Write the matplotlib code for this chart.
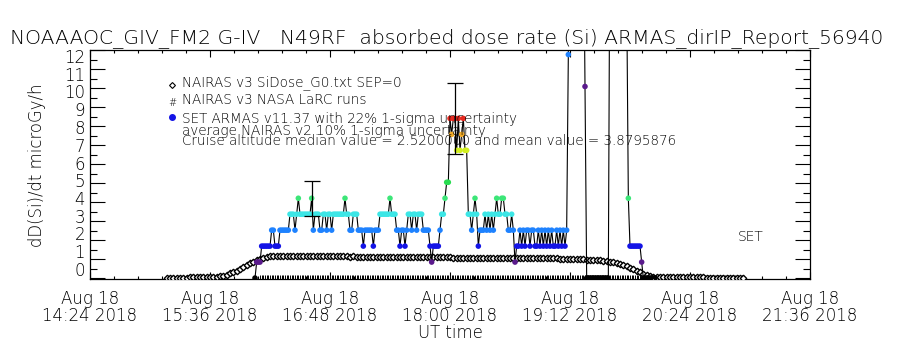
import matplotlib
matplotlib.use("Agg")
import matplotlib.pyplot as plt
import numpy as np

# ---------------- data ----------------
title_text = "NOAAAOC_GIV_FM2 G-IV   N49RF  absorbed dose rate (Si) ARMAS_dirIP_Report_56940"
x_tick_hours = [14.4, 15.6, 16.8, 18.0, 19.2, 20.4, 21.6]
x_tick_labels = ["Aug 18\n14:24 2018", "Aug 18\n15:36 2018", "Aug 18\n16:48 2018",
                 "Aug 18\n18:00 2018", "Aug 18\n19:12 2018", "Aug 18\n20:24 2018",
                 "Aug 18\n21:36 2018"]
y_tick_values = [0, 1, 2, 3, 4, 5, 6, 7, 8, 9, 10, 11, 12]
y_tick_labels = ["0", "1", "2", "3", "4", "5", "6", "7", "8", "9", "10", "11", "12"]

legend_lines = ["NAIRAS v3 SiDose_G0.txt SEP=0",
                "NAIRAS v3 NASA LaRC runs",
                "SET ARMAS v11.37 with 22% 1-sigma uncertainty",
                "average NAIRAS v2 10% 1-sigma uncertainty",
                "Cruise altitude median value = 2.5200000 and mean value = 3.8795876"]

# ARMAS: 1-minute readings (counts of 0.84 microGy/h quanta), starting 16:03 UT
armas_start_hour = 16.05
armas_quantum = 0.84
armas_levels = [0, 1, 1, 1, 2, 2, 2, 2,
                2, 2, 3, 3, 2, 2, 2, 3, 3, 3, 3, 3, 3, 4, 4,
                4, 3, 4, 5, 4, 4, 4, 4, 4, 4, 4,
                5,
                3, 4, 4, 4, 3, 3, 4, 4, 3, 4, 4, 3, 4, 4, 4, 4, 4, 4, 4,
                5,
                4, 4, 3, 3, 4, 4, 4, 3, 3, 3,
                2, 3, 3, 3, 3, 3, 2, 3, 3, 3,
                4, 4, 4, 4, 4, 4, 5, 4, 4, 4, 3, 3,
                2, 3, 3, 2, 3, 4, 4, 3, 4, 4, 3, 4, 4, 4, 3, 3, 3, 3,
                2, 1, 2, 2, 2, 2,
                3, 4, 4, 5, 6, 6,
                10, 9, 10, 10, 8, 10, 8, 9, 10, 8, 8,
                4, 4, 3, 4, 5, 4, 2, 3, 3, 3,
                4, 3, 4, 3, 4, 3, 4, 5, 4, 4, 5, 5, 4, 4, 3, 3, 4, 3,
                1,
                2, 2, 3, 2, 3, 2, 3, 3, 2, 3, 3, 2, 2, 3, 2, 3, 2, 3, 2, 3, 2, 3, 2, 2, 3, 2, 3, 2, 3, 2, 3,
                14,
                36, 48, 54, 48, 42, 36, 33, 30, 24,
                12,
                0, 0, 0, 0, 0, 0, 0, 0, 0, 0, 0, 0, 0, 0,
                24, 42, 54, 60, 54, 48, 42, 36, 30, 24, 18,
                5,
                2, 2, 2, 2, 2, 2, 2,
                1,
                0, 0, 0, 0, 0, 0, 0, 0]
armas_errbar_index = [34, 120]
armas_sigma = 0.22

# NAIRAS v3 SiDose: 2-minute values starting 15:10 UT
nairas_start_hour = 15.0 + 10 / 60
nairas_dose = [0.02, 0.02, 0.02, 0.02, 0.02, 0.02, 0.02, 0.03, 0.03, 0.03, 0.03, 0.04, 0.04, 0.05, 0.06, 0.08,
               0.10, 0.13, 0.18, 0.24, 0.31, 0.39, 0.48, 0.58, 0.68, 0.78, 0.87, 0.95, 1.02, 1.08, 1.12, 1.15, 1.16,
               1.16, 1.16, 1.16, 1.16, 1.15, 1.16, 1.16, 1.15, 1.15, 1.15,
               1.15, 1.15, 1.15, 1.14, 1.15, 1.15, 1.14, 1.14, 1.14, 1.14,
               1.14, 1.14, 1.13, 1.14, 1.13, 1.13, 1.13, 1.13, 1.13, 1.12,
               1.12, 1.12, 1.12, 1.12, 1.12, 1.11, 1.11, 1.11, 1.11, 1.11,
               1.11, 1.10, 1.10, 1.10, 1.10, 1.10, 1.10, 1.09, 1.09, 1.09,
               1.09, 1.09, 1.09, 1.08, 1.08, 1.08, 1.08, 1.08, 1.08, 1.07,
               1.07, 1.07, 1.07, 1.07, 1.07, 1.06, 1.06, 1.06, 1.06, 1.06,
               1.06, 1.06, 1.05, 1.05, 1.05, 1.05, 1.05, 1.05, 1.04, 1.04,
               1.04, 1.04, 1.03, 1.03, 1.03, 1.02, 1.02, 1.01,
               1.00, 0.99, 0.99, 0.98, 0.98, 0.97, 0.96, 0.95, 0.94, 0.93, 0.91, 0.89, 0.86,
               0.83, 0.79, 0.74, 0.68, 0.61, 0.54, 0.46, 0.38, 0.30, 0.22, 0.15, 0.10,
               0.07, 0.06, 0.05, 0.05, 0.04, 0.04, 0.04, 0.04, 0.03, 0.03, 0.03, 0.03, 0.03, 0.03,
               0.03, 0.03, 0.02, 0.02, 0.02, 0.02, 0.02, 0.02, 0.02, 0.02, 0.02, 0.02, 0.02, 0.02]

# NAIRAS v3 NASA LaRC runs (zero-valued, 1-minute)
larc_start_hour = 16.1
larc_end_hour = 20.95

# ---------------- styling ----------------
level_palette = ['#5a1a8c', '#1414e6', '#1e82ff', '#3ce6e6', '#3ce678', '#28dc50',
                 '#96e628', '#d2f01e', '#f0aa28', '#e6281e', '#c80000']


def level_color(k):
    if k <= 0:
        return 'black'
    return level_palette[(k - 1) % len(level_palette)]


plt.rcParams['font.family'] = ['DejaVu Sans']
plt.rcParams['font.weight'] = 'light'
plt.rcParams['axes.labelweight'] = 'light'

W, H = 900, 350
fig = plt.figure(figsize=(9, 3.5), dpi=100)
L, R, T, B = 90, 810, 50, 279
ax = fig.add_axes([L / W, 1 - B / H, (R - L) / W, (B - T) / H])

ax.set_xlim(14.4, 21.6)
ax.set_ylim(-0.05, 12)


def ax_xy(px, py):
    return (px - L) / (R - L), (B - py) / (B - T)


# LaRC zero-valued runs (clipped at the bottom axis)
larc_t = np.arange(larc_start_hour, larc_end_hour, 1 / 60)
larc_v = [0.0 for _ in larc_t]
ax.plot(larc_t, larc_v, ls='none', marker='|', ms=4, mew=0.7, color='black', zorder=2)

# NAIRAS diamonds
nairas_t = nairas_start_hour + np.arange(len(nairas_dose)) * 2 / 60
ax.plot(nairas_t, nairas_dose, ls='none', marker='D', ms=3.3, mfc='white', mec='black',
        mew=1.0, zorder=3)

# ARMAS
armas_t = armas_start_hour + np.arange(len(armas_levels)) / 60
armas_dose = [k * armas_quantum for k in armas_levels]
ax.plot(armas_t, armas_dose, color='black', lw=0.8, zorder=4)
ax.scatter(armas_t, armas_dose, s=16, c=[level_color(k) for k in armas_levels],
           linewidths=0, zorder=5)
for i in armas_errbar_index:
    ax.errorbar([armas_t[i]], [armas_dose[i]], yerr=[[armas_dose[i] * armas_sigma]],
                color='black', lw=0.9, capsize=5.5, capthick=0.9, zorder=6, fmt='none')

# axes styling
for s in ax.spines.values():
    s.set_linewidth(0.9)
ax.set_xticks(x_tick_hours)
ax.set_xticklabels(x_tick_labels, fontsize=12, linespacing=0.95)
ax.set_xticks(np.arange(14.4, 21.61, 0.24), minor=True)
ax.set_yticks(y_tick_values)
ax.set_yticks(np.arange(0, 12.01, 0.5), minor=True)
ax.tick_params(axis='x', which='major', direction='in', length=5, width=0.8, top=True, pad=8)
ax.tick_params(axis='x', which='minor', direction='in', length=2.5, width=0.8, top=True)
ax.tick_params(axis='y', which='major', direction='in', length=11, width=0.8, right=True,
               labelleft=False)
ax.tick_params(axis='y', which='minor', direction='in', length=5, width=0.8, right=True)

# y tick labels (placed as in the reference)
for i, lab in enumerate(y_tick_labels):
    py = 271 - 17.75 * i
    ax.text(-5 / (R - L), (B - py) / (B - T), lab, transform=ax.transAxes,
            ha='right', va='center', fontsize=12)

ax.set_xlabel("UT time", fontsize=12, fontweight='light')
ax.xaxis.set_label_coords(0.5, ax_xy(0, 324)[1])
ylab = ax.set_ylabel("dD(Si)/dt microGy/h", fontsize=12, fontweight='light')
ax.yaxis.set_label_coords(ax_xy(46, 0)[0], ax_xy(0, 165)[1])

ttl = fig.text(447 / W, 1 - 38 / H, title_text, ha='center', va='center', fontsize=14)

# legend block
lx, ly = ax_xy(172, 85)
ax.plot([lx], [ly], marker='D', ms=3, mfc='white', mec='black', mew=0.8,
        transform=ax.transAxes, clip_on=False)
lx, ly = ax_xy(172, 103)
ax.text(lx, ly, '#', transform=ax.transAxes, ha='center', va='center', fontsize=7)
lx, ly = ax_xy(172, 117)
ax.plot([lx], [ly], marker='o', ms=4, color='#1414e6', transform=ax.transAxes, clip_on=False)

leg_y = [83, 100, 119, 131, 141]
leg_texts = []
for txt, py in zip(legend_lines, leg_y):
    x0, y0 = ax_xy(182, py)
    leg_texts.append(ax.text(x0, y0, txt, transform=ax.transAxes, ha='left', va='center',
                             fontsize=9, zorder=7))

sx, sy = ax_xy(751, 237)
ax.text(sx, sy, "SET", transform=ax.transAxes, ha='center', va='center', fontsize=10)

# fit sizes of key texts to the reference
renderer = fig.canvas.get_renderer()


def fit_w(t, target):
    w = t.get_window_extent(renderer).width
    t.set_fontsize(t.get_fontsize() * target / w)


def fit_h(t, target):
    h = t.get_window_extent(renderer).height
    t.set_fontsize(t.get_fontsize() * target / h)


fit_w(ttl, 875)
fit_w(leg_texts[4], 495)
for t in leg_texts[:4]:
    t.set_fontsize(leg_texts[4].get_fontsize())
fit_h(ylab, 164)

fig.savefig("out.png", dpi=100)
